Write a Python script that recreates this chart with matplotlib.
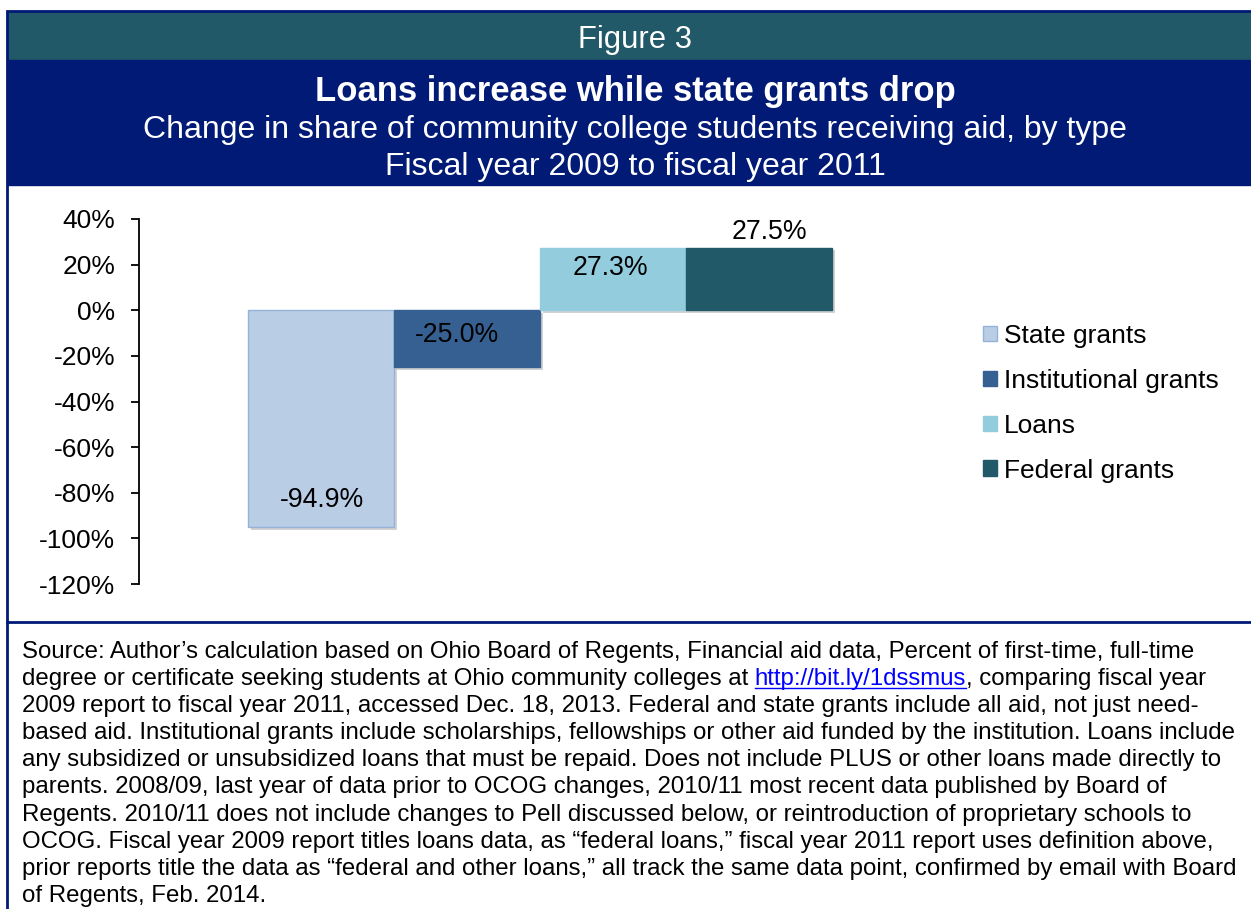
import matplotlib.pyplot as plt
import matplotlib.patheffects as pe
from matplotlib.patches import Rectangle, Patch
from matplotlib.lines import Line2D

plt.rcParams['font.family'] = ['Liberation Sans', 'DejaVu Sans']

W, H = 1251, 909

aid_types = ['State grants', 'Institutional grants', 'Loans', 'Federal grants']
pct_change = [-94.9, -25.0, 27.3, 27.5]
bar_colors = ['#b9cde5', '#376092', '#93cddd', '#215968']
edge_colors = ['#95b3d7', '#376092', '#93cddd', '#215968']
yticks = [40, 20, 0, -20, -40, -60, -80, -100, -120]

fig_label = 'Figure 3'
title = 'Loans increase while state grants drop'
subtitle = ['Change in share of community college students receiving aid, by type',
            'Fiscal year 2009 to fiscal year 2011']

link = 'http://bit.ly/1dssmus'
source_lines = [
    'Source: Author\u2019s calculation based on Ohio Board of Regents, Financial aid data, Percent of first-time, full-time',
    ('degree or certificate seeking students at Ohio community colleges at ', link, ', comparing fiscal year'),
    '2009 report to fiscal year 2011, accessed Dec. 18, 2013. Federal and state grants include all aid, not just need-',
    'based aid. Institutional grants include scholarships, fellowships or other aid funded by the institution. Loans include',
    'any subsidized or unsubsidized loans that must be repaid. Does not include PLUS or other loans made directly to',
    'parents. 2008/09, last year of data prior to OCOG changes, 2010/11 most recent data published by Board of',
    'Regents. 2010/11 does not include changes to Pell discussed below, or reintroduction of proprietary schools to',
    'OCOG. Fiscal year 2009 report titles loans data, as \u201cfederal loans,\u201d fiscal year 2011 report uses definition above,',
    'prior reports title the data as \u201cfederal and other loans,\u201d all track the same data point, confirmed by email with Board',
    'of Regents, Feb. 2014.',
]

NAVY = '#001a76'
TEAL = '#215968'


def fx(x):
    return x / W


def fy(y):
    return 1 - y / H


fig = plt.figure(figsize=(W / 100, H / 100), dpi=100)

# header bands
fig.patches.append(Rectangle((fx(7), fy(60)), fx(1263 - 7), 49 / H,
                             transform=fig.transFigure, color=TEAL, zorder=0))
fig.patches.append(Rectangle((fx(7), fy(185)), fx(1263 - 7), 125 / H,
                             transform=fig.transFigure, color=NAVY, zorder=0))
# outer frame and divider above the source note
fig.patches.append(Rectangle((fx(7), fy(915)), fx(1263 - 7), 904 / H,
                             transform=fig.transFigure, fill=False,
                             edgecolor=NAVY, lw=2, zorder=1))
fig.lines.append(Line2D([fx(7), fx(1263)], [fy(622), fy(622)],
                        transform=fig.transFigure, color=NAVY, lw=2))

cx = fx(635)
fig.text(cx, fy(48), fig_label, ha='center', va='baseline', color='white', fontsize=22.3)
fig.text(cx, fy(101), title, ha='center', va='baseline', color='white',
         fontsize=24.9, fontweight='bold')
fig.text(cx, fy(138), subtitle[0], ha='center', va='baseline', color='white', fontsize=23)
fig.text(cx, fy(175), subtitle[1], ha='center', va='baseline', color='white', fontsize=23)

# chart
ax = fig.add_axes([fx(139), fy(584), fx(941 - 139), (584 - 219) / H])
bw = 146 / 802
xs = [(i - 1.5) * bw for i in range(len(aid_types))]
shadow = [pe.SimplePatchShadow(offset=(2, -2), shadow_rgbFace='#808080', alpha=0.35), pe.Normal()]
bars = ax.bar(xs, pct_change, width=bw, color=bar_colors, edgecolor=edge_colors, lw=1)
for b in bars:
    b.set_path_effects(shadow)

# value labels (pixel offsets from the bar end)
label_offsets = [(1, 26.5), (-10, 32.5), (-3, -20.5), (10, 15.5)]
for x, v, (dx, dy) in zip(xs, pct_change, label_offsets):
    ax.annotate(f'{v:.1f}%', xy=(x, v), xytext=(dx * 0.72, dy * 0.72),
                textcoords='offset points', ha='center', va='center', fontsize=19.2)

ax.set_xlim(-0.5, 0.5)
ax.set_ylim(-120, 40)
ax.set_yticks(yticks)
ax.set_yticklabels([f'{t}%' for t in yticks])
ax.set_xticks([])
for s in ['top', 'right', 'bottom']:
    ax.spines[s].set_visible(False)
ax.spines['left'].set_linewidth(1.3)
ax.tick_params(axis='y', direction='out', length=6, width=1.3, pad=11, labelsize=19)
ax.patch.set_alpha(0)

handles = [Patch(facecolor=c, edgecolor=e) for c, e in zip(bar_colors, edge_colors)]
fig.legend(handles, aid_types, loc='upper left', bbox_to_anchor=(fx(983), fy(324)),
           bbox_transform=fig.transFigure, frameon=False, fontsize=19,
           handlelength=0.53, handleheight=0.53, handletextpad=0.25,
           labelspacing=0.79, borderpad=0, borderaxespad=0)

# source note, one line at a time; the link is drawn in blue and underlined
src_size = 17.3
fig.canvas.draw()
renderer = fig.canvas.get_renderer()
for i, line in enumerate(source_lines):
    y = fy(657.7 + i * 27.15)
    if isinstance(line, str):
        fig.text(fx(22), y, line, ha='left', va='baseline', fontsize=src_size)
        continue
    x = fx(22)
    for part in line:
        t = fig.text(x, y, part, ha='left', va='baseline', fontsize=src_size,
                     color='#0000ff' if part == link else 'black')
        bb = t.get_window_extent(renderer)
        if part == link:
            fig.lines.append(Line2D([bb.x0 / W, bb.x1 / W], [y - 3 / H, y - 3 / H],
                                    transform=fig.transFigure, color='#0000ff', lw=1))
        x = bb.x1 / W

fig.savefig('out.png', dpi=100)
